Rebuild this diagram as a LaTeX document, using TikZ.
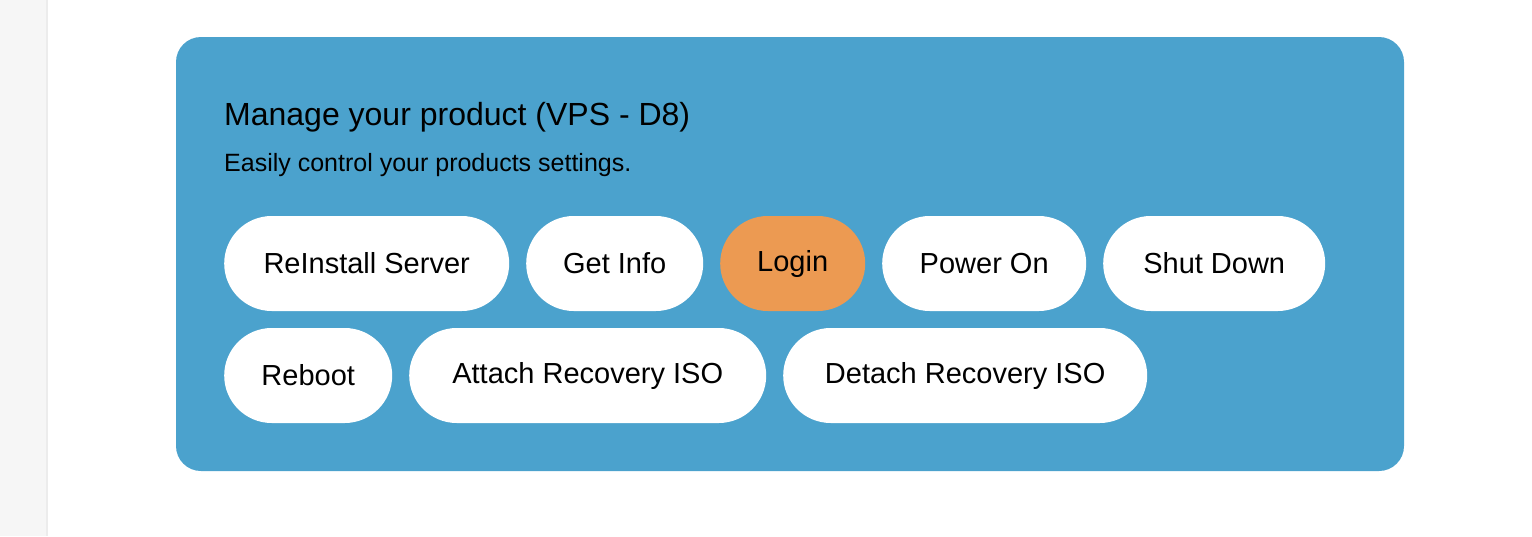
\documentclass[tikz,border=0pt]{standalone}
\usepackage{fontspec}
\setmainfont{Liberation Sans}
\definecolor{panelblue}{HTML}{4BA2CD}
\definecolor{loginorange}{HTML}{EC9A52}
\definecolor{sidegray}{HTML}{F6F6F6}
\definecolor{sideline}{HTML}{ECECEC}
\newcommand{\px}{1pt}
\begin{document}
\begin{tikzpicture}[x=\px, y=-\px,
  btn/.style={fill=white, rounded corners=47.5*\px, minimum height=95*\px, inner sep=0pt, anchor=west,
    font=\fontsize{29}{34}\selectfont, text=black},
  login/.style={btn, fill=loginorange}]
    \useasboundingbox (0,0) rectangle (1532,536);
    % side strip
    \fill[sidegray] (0,0) rectangle (47,536);
    \draw[sideline, line width=1.5pt] (47,0) -- (47,536);
    % panel
    \fill[panelblue, rounded corners=25*\px] (176,37) rectangle (1404,471);
    \node[anchor=base west, inner sep=0pt, font=\fontsize{32}{38}\selectfont] (title) at (224,125) {Manage your product (VPS - D8)};
    \node[anchor=base west, inner sep=0pt, font=\fontsize{25}{30}\selectfont] (subtitle) at (224,171) {Easily control your products settings.};
    % First row
    \node[btn, minimum width=285*\px] (btn-1-1) at (224,263.5) {ReInstall Server};
    \node[btn, minimum width=177*\px] (btn-1-2) at (526,263.5) {Get Info};
    \node[login, minimum width=145*\px] (btn-1-3) at (720,263.5) {Login};
    \node[btn, minimum width=204*\px] (btn-1-4) at (882,263.5) {Power On};
    \node[btn, minimum width=222*\px] (btn-1-5) at (1103,263.5) {Shut Down};
    % Second row
    \node[btn, minimum width=168*\px] (btn-2-1) at (224,375.5) {Reboot};
    \node[btn, minimum width=357*\px] (btn-2-2) at (409,375.5) {Attach Recovery ISO};
    \node[btn, minimum width=364*\px] (btn-2-3) at (783,375.5) {Detach Recovery ISO};
\end{tikzpicture}
\end{document}
